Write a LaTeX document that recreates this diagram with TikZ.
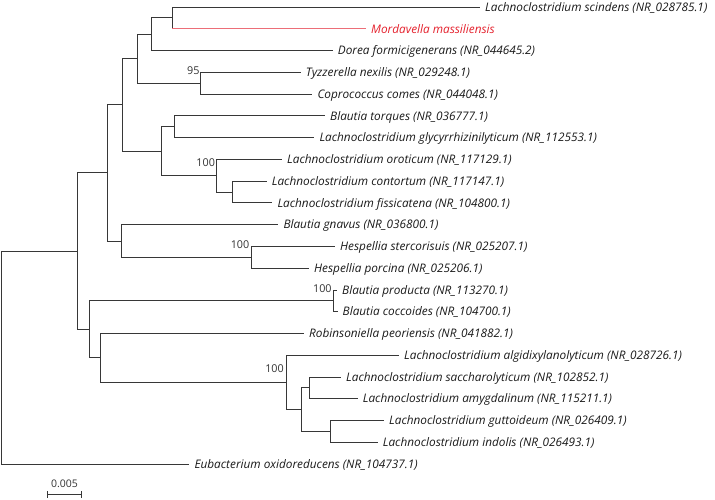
\documentclass[tikz,border=0pt]{standalone}
\usepackage{fontspec}
\setmainfont{Open Sans}
\definecolor{branch}{RGB}{55,55,55}
\definecolor{hl}{RGB}{228,32,44}
\definecolor{hlline}{RGB}{236,110,120}
\begin{document}
\begin{tikzpicture}[x=1pt,y=-1pt,
  br/.style={draw=branch,line width=0.8pt},
  hlbr/.style={draw=hlline,line width=1pt},
  leaf/.style={anchor=west,inner xsep=5pt,inner ysep=0pt,text height=8.5pt,text depth=0pt,
    font=\fontsize{11.8}{14}\selectfont\itshape,text=black!90},
  hleaf/.style={leaf,text=hl},
  boot/.style={anchor=east,inner sep=0pt,font=\fontsize{10.8}{12}\selectfont,text=black!80},
]
\useasboundingbox (0,0) rectangle (715,500);
% leaves
\node[leaf] (l1) at (480,7) {Lachnoclostridium scindens (NR\_028785.1)};
\node[hleaf] (l2) at (366,28.8) {Mordavella massiliensis};
\node[leaf] (l3) at (332.7,50.5) {Dorea formicigenerans (NR\_044645.2)};
\node[leaf] (l4) at (300.7,72.3) {Tyzzerella nexilis (NR\_029248.1)};
\node[leaf] (l5) at (312.3,94) {Coprococcus comes (NR\_044048.1)};
\node[leaf] (l6) at (325,115.8) {Blautia torques (NR\_036777.1)};
\node[leaf] (l7) at (314.3,137.6) {Lachnoclostridium glycyrrhizinilyticum (NR\_112553.1)};
\node[leaf] (l8) at (282,159.3) {Lachnoclostridium oroticum (NR\_117129.1)};
\node[leaf] (l9) at (266.7,181) {Lachnoclostridium contortum (NR\_117147.1)};
\node[leaf] (l10) at (272.3,202.8) {Lachnoclostridium fissicatena (NR\_104800.1)};
\node[leaf] (l11) at (278.3,224.6) {Blautia gnavus (NR\_036800.1)};
\node[leaf] (l12) at (335,246.4) {Hespellia stercorisuis (NR\_025207.1)};
\node[leaf] (l13) at (309,268) {Hespellia porcina (NR\_025206.1)};
\node[leaf] (l14) at (337,289.9) {Blautia producta (NR\_113270.1)};
\node[leaf] (l15) at (337.5,311.6) {Blautia coccoides (NR\_104700.1)};
\node[leaf] (l16) at (304,333.4) {Robinsoniella peoriensis (NR\_041882.1)};
\node[leaf] (l17) at (399,355) {Lachnoclostridium algidixylanolyticum (NR\_028726.1)};
\node[leaf] (l18) at (341,376.9) {Lachnoclostridium saccharolyticum (NR\_102852.1)};
\node[leaf] (l19) at (357.7,398.7) {Lachnoclostridium amygdalinum (NR\_115211.1)};
\node[leaf] (l20) at (384,420.4) {Lachnoclostridium guttoideum (NR\_026409.1)};
\node[leaf] (l21) at (377.7,442) {Lachnoclostridium indolis (NR\_026493.1)};
\node[leaf] (l22) at (189.3,464) {Eubacterium oxidoreducens (NR\_104737.1)};
% internal nodes
\coordinate (n12) at (172,17.9);
\coordinate (n123) at (151,34.2);
\coordinate (n45) at (200.7,83.15);
\coordinate (nA) at (137,58.7);
\coordinate (n67) at (174,126.7);
\coordinate (n910) at (232,191.9);
\coordinate (n8) at (216.7,175.6);
\coordinate (nC) at (161,151.15);
\coordinate (nB) at (122,104.9);
\coordinate (n1213) at (251,257.2);
\coordinate (nG11) at (121.7,240.9);
\coordinate (nD) at (107.7,172.9);
\coordinate (n1415) at (333.3,300.75);
\coordinate (n1819) at (309.7,387.8);
\coordinate (n2021) at (330.3,431.2);
\coordinate (nI) at (301.7,409.5);
\coordinate (nH) at (286,382.25);
\coordinate (nG) at (100.3,357.8);
\coordinate (nF) at (89.3,329.3);
\coordinate (nE) at (77.7,251.1);
\coordinate (root) at (1.7,357.5);
% branches
\draw[br] (n12) |- (l1.west);
\draw[br] (n12) -- (n12 |- l2.west);
\draw[hlbr] (n12 |- l2.west) -- (l2.west);
\draw[br] (n123) |- (n12);
\draw[br] (n123) |- (l3.west);
\draw[br] (n45) |- (l4.west);
\draw[br] (n45) |- (l5.west);
\draw[br] (nA) |- (n123);
\draw[br] (nA) |- (n45);
\draw[br] (n67) |- (l6.west);
\draw[br] (n67) |- (l7.west);
\draw[br] (n910) |- (l9.west);
\draw[br] (n910) |- (l10.west);
\draw[br] (n8) |- (l8.west);
\draw[br] (n8) |- (n910);
\draw[br] (nC) |- (n67);
\draw[br] (nC) |- (n8);
\draw[br] (nB) |- (nA);
\draw[br] (nB) |- (nC);
\draw[br] (n1213) |- (l12.west);
\draw[br] (n1213) |- (l13.west);
\draw[br] (nG11) |- (l11.west);
\draw[br] (nG11) |- (n1213);
\draw[br] (nD) |- (nB);
\draw[br] (nD) |- (nG11);
\draw[br] (n1415) |- (l14.west);
\draw[br] (n1415) |- (l15.west);
\draw[br] (n1819) |- (l18.west);
\draw[br] (n1819) |- (l19.west);
\draw[br] (n2021) |- (l20.west);
\draw[br] (n2021) |- (l21.west);
\draw[br] (nI) |- (n1819);
\draw[br] (nI) |- (n2021);
\draw[br] (nH) |- (l17.west);
\draw[br] (nH) |- (nI);
\draw[br] (nG) |- (l16.west);
\draw[br] (nG) |- (nH);
\draw[br] (nF) |- (n1415);
\draw[br] (nF) |- (nG);
\draw[br] (nE) |- (nD);
\draw[br] (nE) |- (nF);
\draw[br] (root) |- (nE);
\draw[br] (root) |- (l22.west);
% bootstrap values
\node[boot] (b45) at ([xshift=-1pt,yshift=13pt]n45) {95};
\node[boot] (b8) at ([xshift=-1.5pt,yshift=13pt]n8) {100};
\node[boot] (b1213) at ([xshift=-1.5pt,yshift=13pt]n1213) {100};
\node[boot] (b1415) at ([xshift=-1.5pt,yshift=12pt]n1415) {100};
\node[boot] (bH) at ([xshift=-2pt,yshift=14pt]nH) {100};
% scale bar
\coordinate (sb1) at (47,494.3);
\coordinate (sb2) at (81.7,494.3);
\draw[br] (sb1) -- (sb2);
\draw[br] ([yshift=3.3pt]sb1) -- ([yshift=-3.3pt]sb1);
\draw[br] ([yshift=3.3pt]sb2) -- ([yshift=-3.3pt]sb2);
\node[inner sep=0pt,font=\fontsize{10.5}{12}\selectfont,text=black!80] (sbl) at (64.5,483.5) {0.005};
\end{tikzpicture}
\end{document}
